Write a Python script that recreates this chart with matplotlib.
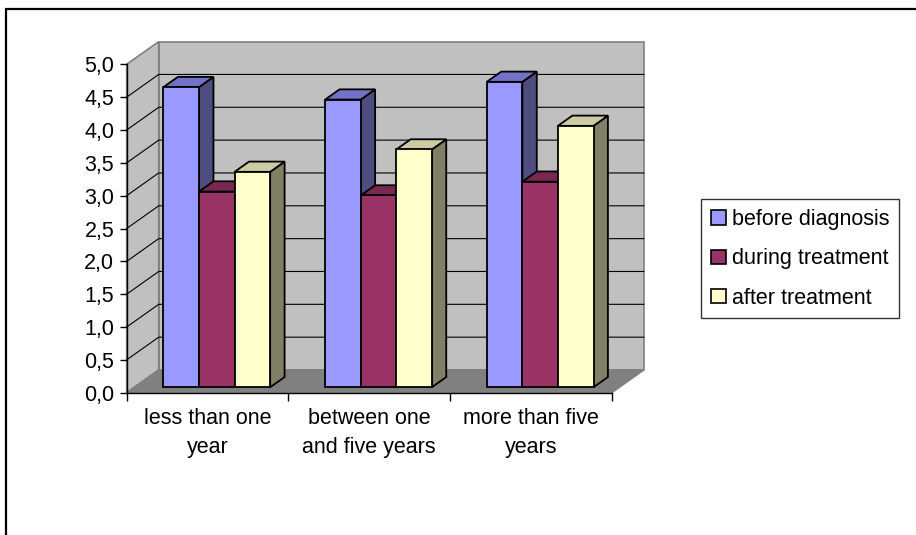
import matplotlib
matplotlib.use('Agg')
import matplotlib.pyplot as plt
from matplotlib.patches import Polygon, Patch, Rectangle
from matplotlib.ticker import FuncFormatter

plt.rcParams['font.family'] = ['Liberation Sans', 'DejaVu Sans']

categories = ['less than one\nyear', 'between one\nand five years', 'more than five\nyears']
series = ['before diagnosis', 'during treatment', 'after treatment']
before = [4.57, 4.38, 4.65]
during = [2.98, 2.92, 3.13]
after = [3.28, 3.62, 3.98]
values = [before, during, after]

front_col = ['#9999FF', '#993366', '#FFFFCC']
top_col = ['#7272C8', '#7A2852', '#CCCCA3']
side_col = ['#4D4D80', '#4D1A33', '#808066']

# oblique depth offset (data units for full depth)
DX = 0.198
DY = 0.3456
D0, D1 = 0.24, 0.69  # bar depth range
FS = 15.5


def P(x, v, d):
    return (x + d * DX, v + d * DY)


fig = plt.figure(figsize=(9.16, 5.35), dpi=100)
ax = fig.add_axes([126.7 / 916, (535 - 392.7) / 535, 485 / 916, 328.4 / 535])
ax.set_xlim(0, len(categories))
ax.set_ylim(0, 5)
ax.patch.set_visible(False)

ymax = 5.0
ncat = len(categories)
wall_edge = '#808080'

# back wall, left wall, floor
back = [P(0, 0, 1), P(ncat, 0, 1), P(ncat, ymax, 1), P(0, ymax, 1)]
left = [P(0, 0, 0), P(0, 0, 1), P(0, ymax, 1), P(0, ymax, 0)]
floor = [P(0, 0, 0), P(ncat, 0, 0), P(ncat, 0, 1), P(0, 0, 1)]
ax.add_patch(Polygon(back, closed=True, fc='#C0C0C0', ec=wall_edge, lw=1.2, clip_on=False, zorder=1))
ax.add_patch(Polygon(left, closed=True, fc='#C0C0C0', ec=wall_edge, lw=1.2, clip_on=False, zorder=1))
ax.add_patch(Polygon(floor, closed=True, fc='#808080', ec=wall_edge, lw=1.2, clip_on=False, zorder=1.1))

# gridlines on walls
yt = [i * 0.5 for i in range(11)]
for v in yt[1:-1]:
    a, b, c = P(0, v, 0), P(0, v, 1), P(ncat, v, 1)
    ax.plot([a[0], b[0], c[0]], [a[1], b[1], c[1]], color='black', lw=0.8, clip_on=False, zorder=1.5)

# bars
bw = 0.22
for i in range(ncat):
    for j in range(len(series)):
        x0 = i + 0.18 + j * bw
        x1 = x0 + bw
        h = values[j][i]
        fr = [P(x0, 0, D0), P(x1, 0, D0), P(x1, h, D0), P(x0, h, D0)]
        tp = [P(x0, h, D0), P(x1, h, D0), P(x1, h, D1), P(x0, h, D1)]
        sd = [P(x1, 0, D0), P(x1, 0, D1), P(x1, h, D1), P(x1, h, D0)]
        z = 3 + i * 3 + j * 0.1
        for poly, col in ((sd, side_col[j]), (tp, top_col[j]), (fr, front_col[j])):
            ax.add_patch(Polygon(poly, closed=True, fc=col, ec='black', lw=1.3,
                                 joinstyle='miter', clip_on=False, zorder=z))

# axes
for s in ['top', 'right']:
    ax.spines[s].set_visible(False)
for s in ['left', 'bottom']:
    ax.spines[s].set_color('black')
    ax.spines[s].set_linewidth(1.0)
    ax.spines[s].set_zorder(20)

ax.set_yticks(yt)
ax.yaxis.set_major_formatter(FuncFormatter(lambda v, p: ('%.1f' % v).replace('.', ',')))
ax.tick_params(axis='y', direction='out', length=5, width=1, pad=4, labelsize=FS)

ax.set_xticks(range(ncat + 1))
ax.set_xticklabels([])
ax.set_xticks([i + 0.5 for i in range(ncat)], minor=True)
ax.set_xticklabels(categories, minor=True, fontsize=FS, linespacing=1.5)
ax.tick_params(axis='x', which='major', direction='out', length=6, width=1)
ax.tick_params(axis='x', which='minor', length=0, pad=11)

handles = [Patch(facecolor=front_col[j], edgecolor='black', lw=1.2) for j in range(len(series))]
leg = fig.legend(handles, series, loc='upper left', bbox_to_anchor=(701 / 916, 1 - 199.3 / 535),
                 borderaxespad=0, fontsize=FS, frameon=True, fancybox=False, edgecolor='black',
                 handlelength=0.7, handleheight=0.65, handletextpad=0.3, borderpad=0.45,
                 labelspacing=0.85)
leg.get_frame().set_linewidth(1.0)

# outer chart frame
fig.patches.append(Rectangle((6 / 916, -0.1), 2, 1.1 - 9 / 535, transform=fig.transFigure,
                             fill=False, ec='black', lw=1.6))

fig.savefig('out.png', dpi=100)
